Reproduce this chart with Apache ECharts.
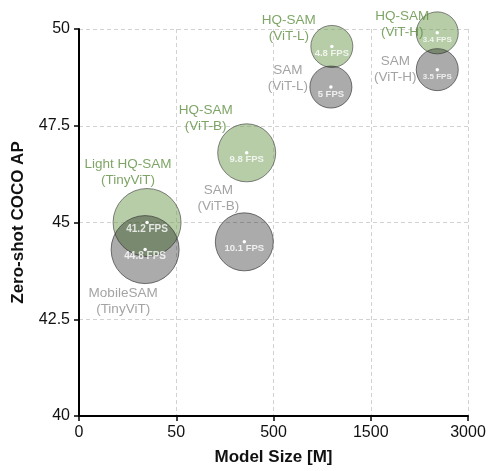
<!DOCTYPE html>
<html><head><meta charset="utf-8">
<script src="https://cdn.jsdelivr.net/npm/echarts@6/dist/echarts.min.js"></script>
<style>html,body{margin:0;padding:0;background:#fff}#c{width:490px;height:471px}</style>
</head><body><div id="c"></div>
<script>
// ---- data ----
const xTickLabels = ['0', '50', '500', '1500', '3000'];
const xTickValues = [0, 50, 500, 1500, 3000];
const backbones = ['TinyViT', 'ViT-B', 'ViT-L', 'ViT-H'];
const hqNames = ['Light HQ-SAM', 'HQ-SAM', 'HQ-SAM', 'HQ-SAM'];
const samNames = ['MobileSAM', 'SAM', 'SAM', 'SAM'];
const hqModelSize = [35, 376, 1100, 2526];
const samModelSize = [34, 365, 1090, 2526];
const hqAP = [45.0, 46.8, 49.55, 49.9];
const samAP = [44.3, 44.5, 48.5, 48.95];
const hqFPS = [41.2, 9.8, 4.8, 3.4];
const samFPS = [44.8, 10.1, 5, 3.5];

// ---- styles ----
const bubbleDiam = { 'TinyViT': 68, 'ViT-B': 58, 'ViT-L': 42, 'ViT-H': 42 };
const fpsFont = { 'TinyViT': 10, 'ViT-B': 9.5, 'ViT-L': 9.5, 'ViT-H': 8 };
const hqLabelOffset = { 'TinyViT': [-19, -50], 'ViT-B': [-41, -35], 'ViT-L': [-43, -18], 'ViT-H': [-35, -9] };
const samLabelOffset = { 'TinyViT': [-22, 52], 'ViT-B': [-26, -44], 'ViT-L': [-43, -9], 'ViT-H': [-42, 0] };
const GREEN_FILL = 'rgba(110,155,80,0.5)';
const GREY_FILL = 'rgba(0,0,0,0.33)';
const GREEN_TEXT = '#5e8f3e';
const GREY_TEXT = '#8c8c8c';
const FONT = '"Liberation Sans", Arial, sans-serif';

// piecewise mapping of model size onto the evenly spaced axis ticks
function sizeToAxis(m) {
  for (let i = 0; i < xTickValues.length - 1; i++) {
    if (m <= xTickValues[i + 1]) {
      return i + (m - xTickValues[i]) / (xTickValues[i + 1] - xTickValues[i]);
    }
  }
  return xTickValues.length - 1;
}

function bubbleData(sizes, aps) {
  return sizes.map((s, i) => ({
    value: [sizeToAxis(s), aps[i]],
    symbolSize: bubbleDiam[backbones[i]]
  }));
}
function fpsData(sizes, aps, fps) {
  return sizes.map((s, i) => ({
    value: [sizeToAxis(s), aps[i]],
    label: { formatter: fps[i] + ' FPS', fontSize: fpsFont[backbones[i]] }
  }));
}
function nameData(sizes, aps, names, offsets, color) {
  return sizes.map((s, i) => ({
    value: [sizeToAxis(s), aps[i]],
    label: { formatter: names[i] + '\n(' + backbones[i] + ')', offset: offsets[backbones[i]], color: color }
  }));
}
function dotData(sizes, aps) {
  return sizes.map((s, i) => [sizeToAxis(s), aps[i]]);
}

const option = {
  animation: false,
  grid: { left: 79, right: 22, top: 29, bottom: 53, containLabel: false },
  xAxis: {
    type: 'value', min: 0, max: 4, interval: 1,
    name: 'Model Size [M]', nameLocation: 'middle', nameGap: 33,
    nameTextStyle: { fontFamily: FONT, fontWeight: 'bold', fontSize: 17, color: '#111' },
    axisLine: { lineStyle: { color: '#000', width: 2 } },
    axisTick: { show: true, length: 5, lineStyle: { color: '#000', width: 1.5 } },
    axisLabel: { formatter: v => xTickLabels[v], fontFamily: FONT, fontSize: 16, color: '#111', margin: 9 },
    splitLine: { show: true, lineStyle: { color: '#d2d2d2', type: [4, 3], width: 1 } }
  },
  yAxis: {
    type: 'value', min: 40, max: 50, interval: 2.5,
    name: 'Zero-shot COCO AP', nameLocation: 'middle', nameGap: 52,
    nameTextStyle: { fontFamily: FONT, fontWeight: 'bold', fontSize: 17, color: '#111' },
    axisLine: { show: true, lineStyle: { color: '#000', width: 2 } },
    axisTick: { show: true, length: 5, lineStyle: { color: '#000', width: 1.5 } },
    axisLabel: { fontFamily: FONT, fontSize: 16, color: '#111', margin: 9 },
    splitLine: { show: true, lineStyle: { color: '#d2d2d2', type: [4, 3], width: 1 } }
  },
  series: [
    {
      name: 'HQ-SAM', type: 'scatter', clip: false, z: 2, silent: true,
      itemStyle: { color: GREEN_FILL, borderColor: 'rgba(80,80,80,0.7)', borderWidth: 1, opacity: 1 },
      data: bubbleData(hqModelSize, hqAP)
    },
    {
      name: 'SAM', type: 'scatter', clip: false, z: 3, silent: true,
      itemStyle: { color: GREY_FILL, borderColor: 'rgba(60,60,60,0.7)', borderWidth: 1, opacity: 1 },
      data: bubbleData(samModelSize, samAP)
    },
    {
      type: 'scatter', clip: false, z: 4, symbolSize: 3.5, silent: true,
      itemStyle: { color: '#fff', opacity: 1 },
      data: dotData(hqModelSize, hqAP).concat(dotData(samModelSize, samAP))
    },
    {
      type: 'scatter', clip: false, z: 5, symbolSize: 0, silent: true,
      label: { show: true, position: 'inside', offset: [0, 7], color: '#fff', fontWeight: 'bold', fontFamily: FONT },
      data: fpsData(hqModelSize, hqAP, hqFPS).concat(fpsData(samModelSize, samAP, samFPS))
    },
    {
      type: 'scatter', clip: false, z: 5, symbolSize: 0, silent: true,
      label: { show: true, position: 'inside', fontFamily: FONT, fontSize: 13.5, lineHeight: 16, align: 'center' },
      data: nameData(hqModelSize, hqAP, hqNames, hqLabelOffset, GREEN_TEXT)
        .concat(nameData(samModelSize, samAP, samNames, samLabelOffset, GREY_TEXT))
    }
  ]
};
const chart = echarts.init(document.getElementById('c'), null, { renderer: 'canvas' });
chart.setOption(option);
</script>
</body></html>
